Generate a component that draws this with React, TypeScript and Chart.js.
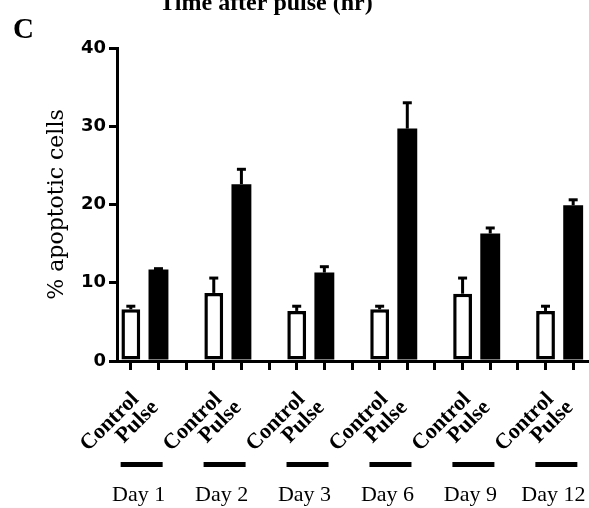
import React, { useEffect, useRef } from 'react';
import { Chart, registerables } from 'chart.js';

Chart.register(...registerables);

const days = ['Day 1', 'Day 2', 'Day 3', 'Day 6', 'Day 9', 'Day 12'];
const groupLabels = ['Control', 'Pulse'];
const controlMeans = [6.6, 8.7, 6.4, 6.6, 8.6, 6.4];
const controlErrors = [0.4, 1.9, 0.6, 0.4, 2.0, 0.6];
const pulseMeans = [11.7, 22.6, 11.3, 29.7, 16.3, 19.9];
const pulseErrors = [0.1, 1.9, 0.75, 3.3, 0.7, 0.7];
const yTicks = [0, 10, 20, 30, 40];
const topTitle = 'Time after pulse (hr)';
const panelLetter = 'C';
const yTitle = '% apoptotic cells';

// Build the category slots: Control, Pulse, (gap) ...
const labels: string[] = [];
const controlData: (number | null)[] = [];
const pulseData: (number | null)[] = [];
const controlErrData: (number | null)[] = [];
const pulseErrData: (number | null)[] = [];
const groupIndex: { c: number; p: number }[] = [];
days.forEach((_, i) => {
  const c = labels.length;
  labels.push(groupLabels[0]);
  controlData.push(controlMeans[i]);
  pulseData.push(null);
  controlErrData.push(controlErrors[i]);
  pulseErrData.push(null);
  labels.push(groupLabels[1]);
  controlData.push(null);
  pulseData.push(pulseMeans[i]);
  controlErrData.push(null);
  pulseErrData.push(pulseErrors[i]);
  groupIndex.push({ c, p: c + 1 });
  if (i < days.length - 1) {
    labels.push('');
    controlData.push(null);
    pulseData.push(null);
    controlErrData.push(null);
    pulseErrData.push(null);
  }
});

const errorBarPlugin = {
  id: 'errorBars',
  afterDatasetsDraw(chart: any) {
    const ctx = chart.ctx;
    const yScale = chart.scales.y;
    const errSets = [controlErrData, pulseErrData];
    ctx.save();
    ctx.strokeStyle = '#000';
    ctx.lineWidth = 3;
    chart.data.datasets.forEach((ds: any, di: number) => {
      const meta = chart.getDatasetMeta(di);
      meta.data.forEach((bar: any, idx: number) => {
        const v = ds.data[idx];
        const e = errSets[di][idx];
        if (v == null || e == null) return;
        const yTop = yScale.getPixelForValue(v + e);
        ctx.beginPath();
        ctx.moveTo(bar.x, bar.y);
        ctx.lineTo(bar.x, yTop);
        ctx.stroke();
        ctx.beginPath();
        ctx.moveTo(bar.x - 4.5, yTop);
        ctx.lineTo(bar.x + 4.5, yTop);
        ctx.stroke();
      });
    });
    ctx.restore();
  },
};

const annotationPlugin = {
  id: 'annotations',
  afterDraw(chart: any) {
    const ctx = chart.ctx;
    const xScale = chart.scales.x;
    ctx.save();
    ctx.fillStyle = '#000';
    // top title (cut off at the top edge)
    ctx.font = 'bold 24px "Liberation Serif", "Times New Roman", serif';
    ctx.textAlign = 'center';
    ctx.textBaseline = 'alphabetic';
    ctx.fillText(topTitle, 266, 10);
    // panel letter
    ctx.font = 'bold 29px "Liberation Serif", "Times New Roman", serif';
    ctx.textAlign = 'left';
    ctx.fillText(panelLetter, 13, 38);
    // rotated category labels
    ctx.font = 'bold 22px "Liberation Serif", "Times New Roman", serif';
    labels.forEach((lab, idx) => {
      if (!lab) return;
      const px = xScale.getPixelForTick(idx);
      ctx.save();
      ctx.translate(px - 21, 422);
      ctx.rotate(-Math.PI / 4);
      ctx.textAlign = 'center';
      ctx.textBaseline = 'middle';
      ctx.fillText(lab, 0, 0);
      ctx.restore();
    });
    // group underlines and day labels
    ctx.font = '22px "Liberation Serif", "Times New Roman", serif';
    ctx.textAlign = 'center';
    ctx.textBaseline = 'middle';
    ctx.strokeStyle = '#000';
    ctx.lineWidth = 5;
    groupIndex.forEach((g, i) => {
      const pc = xScale.getPixelForTick(g.c);
      const pp = xScale.getPixelForTick(g.p);
      const cx = (pc + pp) / 2 - 3;
      ctx.beginPath();
      ctx.moveTo(cx - 21, 464.5);
      ctx.lineTo(cx + 21, 464.5);
      ctx.stroke();
      ctx.fillText(days[i], cx - 3, 495);
    });
    ctx.restore();
  },
};

export default function App() {
  const ref = useRef<HTMLCanvasElement>(null);
  useEffect(() => {
    if (!ref.current) return;
    const chart = new Chart(ref.current, {
      type: 'bar',
      data: {
        labels,
        datasets: [
          {
            label: 'Control',
            data: controlData,
            backgroundColor: '#fff',
            borderColor: '#000',
            borderWidth: 3.5,
            borderSkipped: false,
            grouped: false,
            barPercentage: 0.68,
            categoryPercentage: 1,
          } as any,
          {
            label: 'Pulse',
            data: pulseData,
            backgroundColor: '#000',
            borderColor: '#000',
            borderWidth: 0,
            grouped: false,
            barPercentage: 0.72,
            categoryPercentage: 1,
          } as any,
        ],
      },
      options: {
        animation: false,
        responsive: false,
        maintainAspectRatio: false,
        layout: { padding: { left: 0, top: 48, right: 2, bottom: 0 } },
        plugins: { legend: { display: false }, tooltip: { enabled: false } },
        scales: {
          x: {
            type: 'category',
            offset: true,
            grid: {
              display: true,
              offset: false,
              drawOnChartArea: false,
              drawTicks: true,
              tickLength: 9,
              color: '#000',
              lineWidth: 3,
            },
            border: { display: true, color: '#000', width: 3 },
            ticks: { display: false },
            afterFit: (scale: any) => {
              scale.height = 147;
            },
          },
          y: {
            min: 0,
            max: 40,
            afterBuildTicks: (scale: any) => {
              scale.ticks = yTicks.map((v) => ({ value: v }));
            },
            grid: {
              display: true,
              drawOnChartArea: false,
              drawTicks: true,
              tickLength: 8,
              color: '#000',
              lineWidth: 3,
            },
            border: { display: true, color: '#000', width: 3 },
            ticks: {
              color: '#000',
              padding: 3,
              font: { family: '"DejaVu Sans", sans-serif', size: 18, weight: 'bold' },
            },
            title: {
              display: true,
              text: yTitle,
              color: '#000',
              font: { family: '"DejaVu Serif", serif', size: 22, weight: 'normal' },
              padding: { top: 44, bottom: 0 },
            },
            afterFit: (scale: any) => {
              scale.width = 117;
            },
          },
        },
      },
      plugins: [errorBarPlugin, annotationPlugin],
    });
    return () => chart.destroy();
  }, []);
  return (
    <div style={{ position: 'absolute', left: 0, top: 0, width: 589, height: 508, background: '#fff' }}>
      <canvas ref={ref} width={589} height={508} style={{ display: 'block' }} />
    </div>
  );
}
